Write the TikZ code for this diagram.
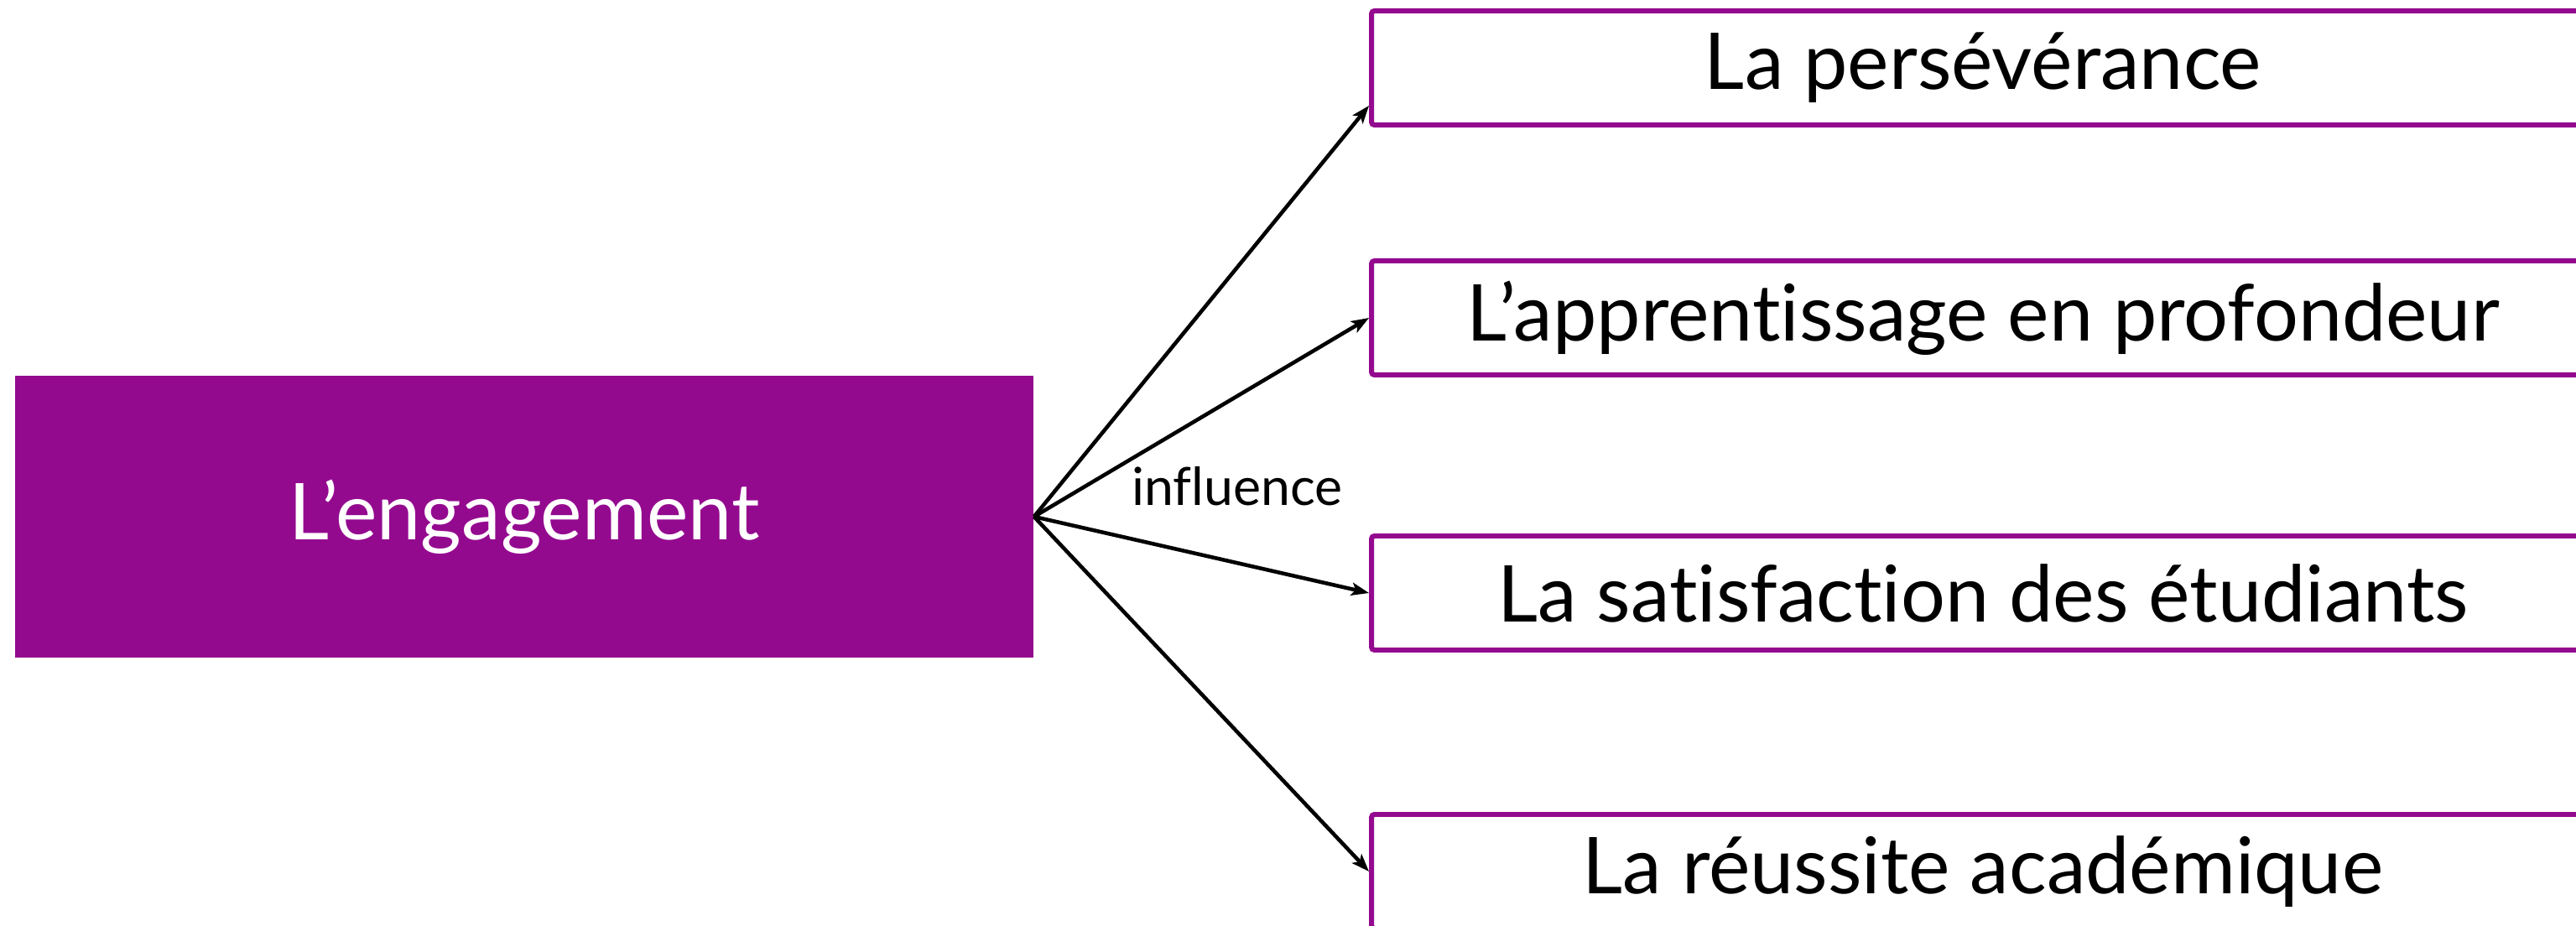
\documentclass[tikz,border=0pt]{standalone}
\usepackage{fontspec}
\setmainfont{Lato}[Ligatures=NoCommon]
\usepackage{tikz}
\usetikzlibrary{arrows.meta,positioning}

\definecolor{engpurple}{RGB}{148,10,143}

\begin{document}
\begin{tikzpicture}[
cause/.style={rectangle, fill=engpurple, minimum width=121.4mm, minimum height=33.6mm, inner sep=0pt, align=center, text=white, font=\fontsize{26.6}{32}\selectfont},
effect/.style={rectangle, draw=engpurple, line width=1.7pt, rounded corners=1pt, fill=white, minimum width=145.8mm, minimum height=13.6mm, inner sep=0pt, align=center, font=\fontsize{26.6}{32}\selectfont},
flow/.style={-{Stealth[length=6pt, width=4.4pt, inset=1.4pt]}, line width=1.3pt}
]
\useasboundingbox (0,0) rectangle (30.71,-11.04);
\clip (0,0) rectangle (30.71,-11.04);
\node[cause] (engagement) at (6.25,-6.16) {L’engagement};
\node[effect] (perseverance) at (23.64,-0.81) {La persévérance};
\node[effect] (apprentissage) at (23.64,-3.79) {L’apprentissage en profondeur};
\node[effect] (satisfaction) at (23.64,-7.07) {La satisfaction des étudiants};
\node[effect] (reussite) at (23.64,-10.39) {La réussite académique};
\node[font=\fontsize{17.8}{21}\selectfont, anchor=base] (influence) at (14.75,-6.03) {influence};
\draw[flow] (engagement.east) -- ([yshift=2.6mm]perseverance.south west);
\draw[flow] (engagement.east) -- (apprentissage.west);
\draw[flow] (engagement.east) -- (satisfaction.west);
\draw[flow] (engagement.east) -- (reussite.west);
\end{tikzpicture}
\end{document}
